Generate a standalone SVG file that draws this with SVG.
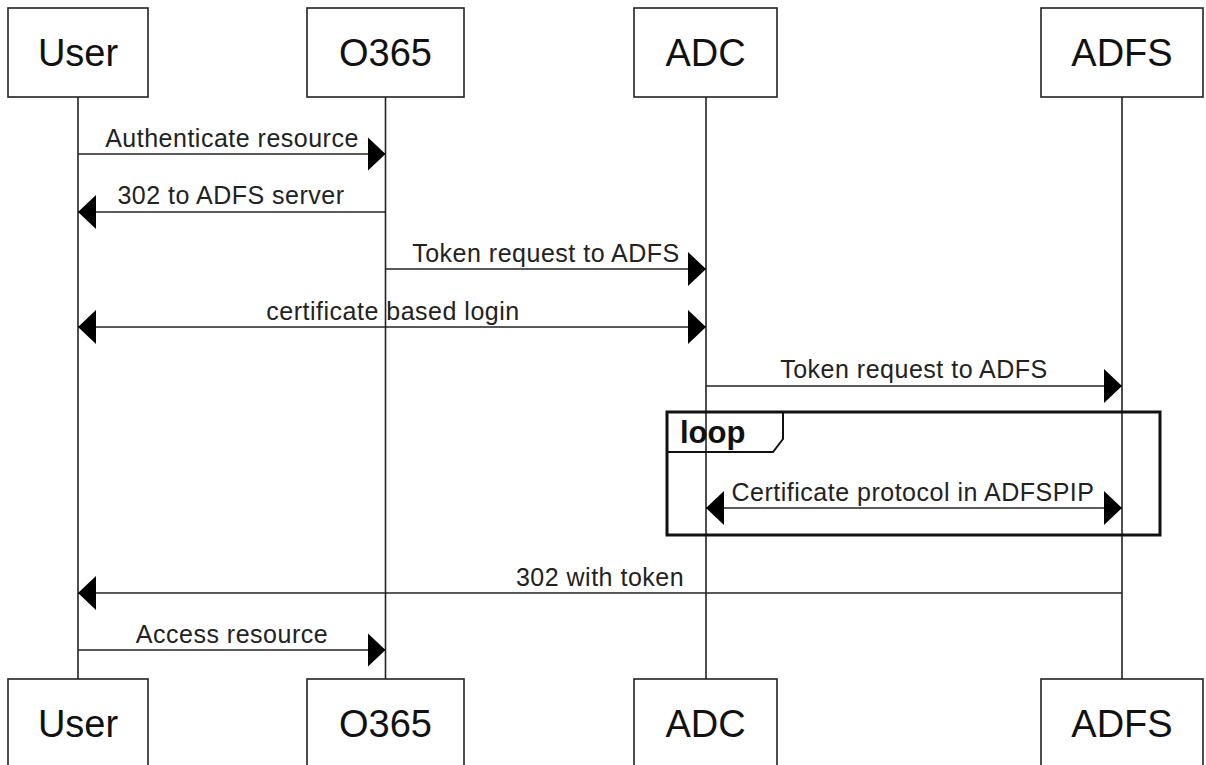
<svg xmlns="http://www.w3.org/2000/svg" width="1206" height="765" viewBox="0 0 1206 765">
<style>
.box{fill:#fff;stroke:#222;stroke-width:1.6}
.pt{font-family:"Liberation Sans",Arial,sans-serif;font-size:38px;fill:#111;text-anchor:middle}
.life{stroke:#222;stroke-width:1.6;fill:none}
.msg{stroke:#222;stroke-width:1.6;fill:none}
.ml{font-family:"Liberation Sans",Arial,sans-serif;font-size:25px;letter-spacing:0.5px;fill:#222;text-anchor:middle}
.loop{fill:none;stroke:#111;stroke-width:3}
.lt{font-family:"Liberation Sans",Arial,sans-serif;font-size:31px;font-weight:bold;fill:#111}
</style>
<defs>
<marker id="ah" viewBox="0 0 18 34" markerWidth="18" markerHeight="34" refX="18" refY="17" orient="auto-start-reverse" markerUnits="userSpaceOnUse">
<path d="M0,0 L18,17 L0,34 Z" fill="#000"/>
</marker>
</defs>
<g id="lifelines">
<line class="life" x1="78" y1="97" x2="78" y2="679"/>
<line class="life" x1="385.5" y1="97" x2="385.5" y2="679"/>
<line class="life" x1="706" y1="97" x2="706" y2="679"/>
<line class="life" x1="1122" y1="97" x2="1122" y2="679"/>
</g>
<g id="node-user">
<rect class="box" x="8" y="8" width="140" height="89"/>
<text class="pt" x="78" y="66">User</text>
</g>
<g id="node-o365">
<rect class="box" x="307" y="8" width="157" height="89"/>
<text class="pt" x="385.5" y="66">O365</text>
</g>
<g id="node-adc">
<rect class="box" x="634" y="8" width="143" height="89"/>
<text class="pt" x="705.5" y="66">ADC</text>
</g>
<g id="node-adfs">
<rect class="box" x="1041" y="8" width="162" height="89"/>
<text class="pt" x="1122" y="66">ADFS</text>
</g>
<g id="node-user-bottom">
<rect class="box" x="8" y="679" width="140" height="95"/>
<text class="pt" x="78" y="737">User</text>
</g>
<g id="node-o365-bottom">
<rect class="box" x="307" y="679" width="157" height="95"/>
<text class="pt" x="385.5" y="737">O365</text>
</g>
<g id="node-adc-bottom">
<rect class="box" x="634" y="679" width="143" height="95"/>
<text class="pt" x="705.5" y="737">ADC</text>
</g>
<g id="node-adfs-bottom">
<rect class="box" x="1041" y="679" width="162" height="95"/>
<text class="pt" x="1122" y="737">ADFS</text>
</g>
<g id="loop-fragment">
<rect class="loop" x="667" y="412" width="493" height="123"/>
<path d="M667,452 L773,452 L783,439 L783,412" fill="none" stroke="#111" stroke-width="2"/>
<text class="lt" x="680" y="443">loop</text>
</g>
<g id="connectors">
<line class="msg" x1="78" y1="154" x2="385.5" y2="154" marker-end="url(#ah)"/>
<text class="ml" x="232" y="147">Authenticate resource</text>
<line class="msg" x1="385.5" y1="212" x2="78" y2="212" marker-end="url(#ah)"/>
<text class="ml" x="231" y="204">302 to ADFS server</text>
<line class="msg" x1="385.5" y1="269" x2="706" y2="269" marker-end="url(#ah)"/>
<text class="ml" x="546" y="262">Token request to ADFS</text>
<line class="msg" x1="78" y1="327" x2="706" y2="327" marker-start="url(#ah)" marker-end="url(#ah)"/>
<text class="ml" x="393" y="320">certificate based login</text>
<line class="msg" x1="706" y1="386" x2="1122" y2="386" marker-end="url(#ah)"/>
<text class="ml" x="914" y="378">Token request to ADFS</text>
<line class="msg" x1="706" y1="508" x2="1122" y2="508" marker-start="url(#ah)" marker-end="url(#ah)"/>
<text class="ml" x="913" y="501">Certificate protocol in ADFSPIP</text>
<line class="msg" x1="1122" y1="593" x2="78" y2="593" marker-end="url(#ah)"/>
<text class="ml" x="600" y="586">302 with token</text>
<line class="msg" x1="78" y1="650" x2="385.5" y2="650" marker-end="url(#ah)"/>
<text class="ml" x="232" y="643">Access resource</text>
</g>
</svg>
